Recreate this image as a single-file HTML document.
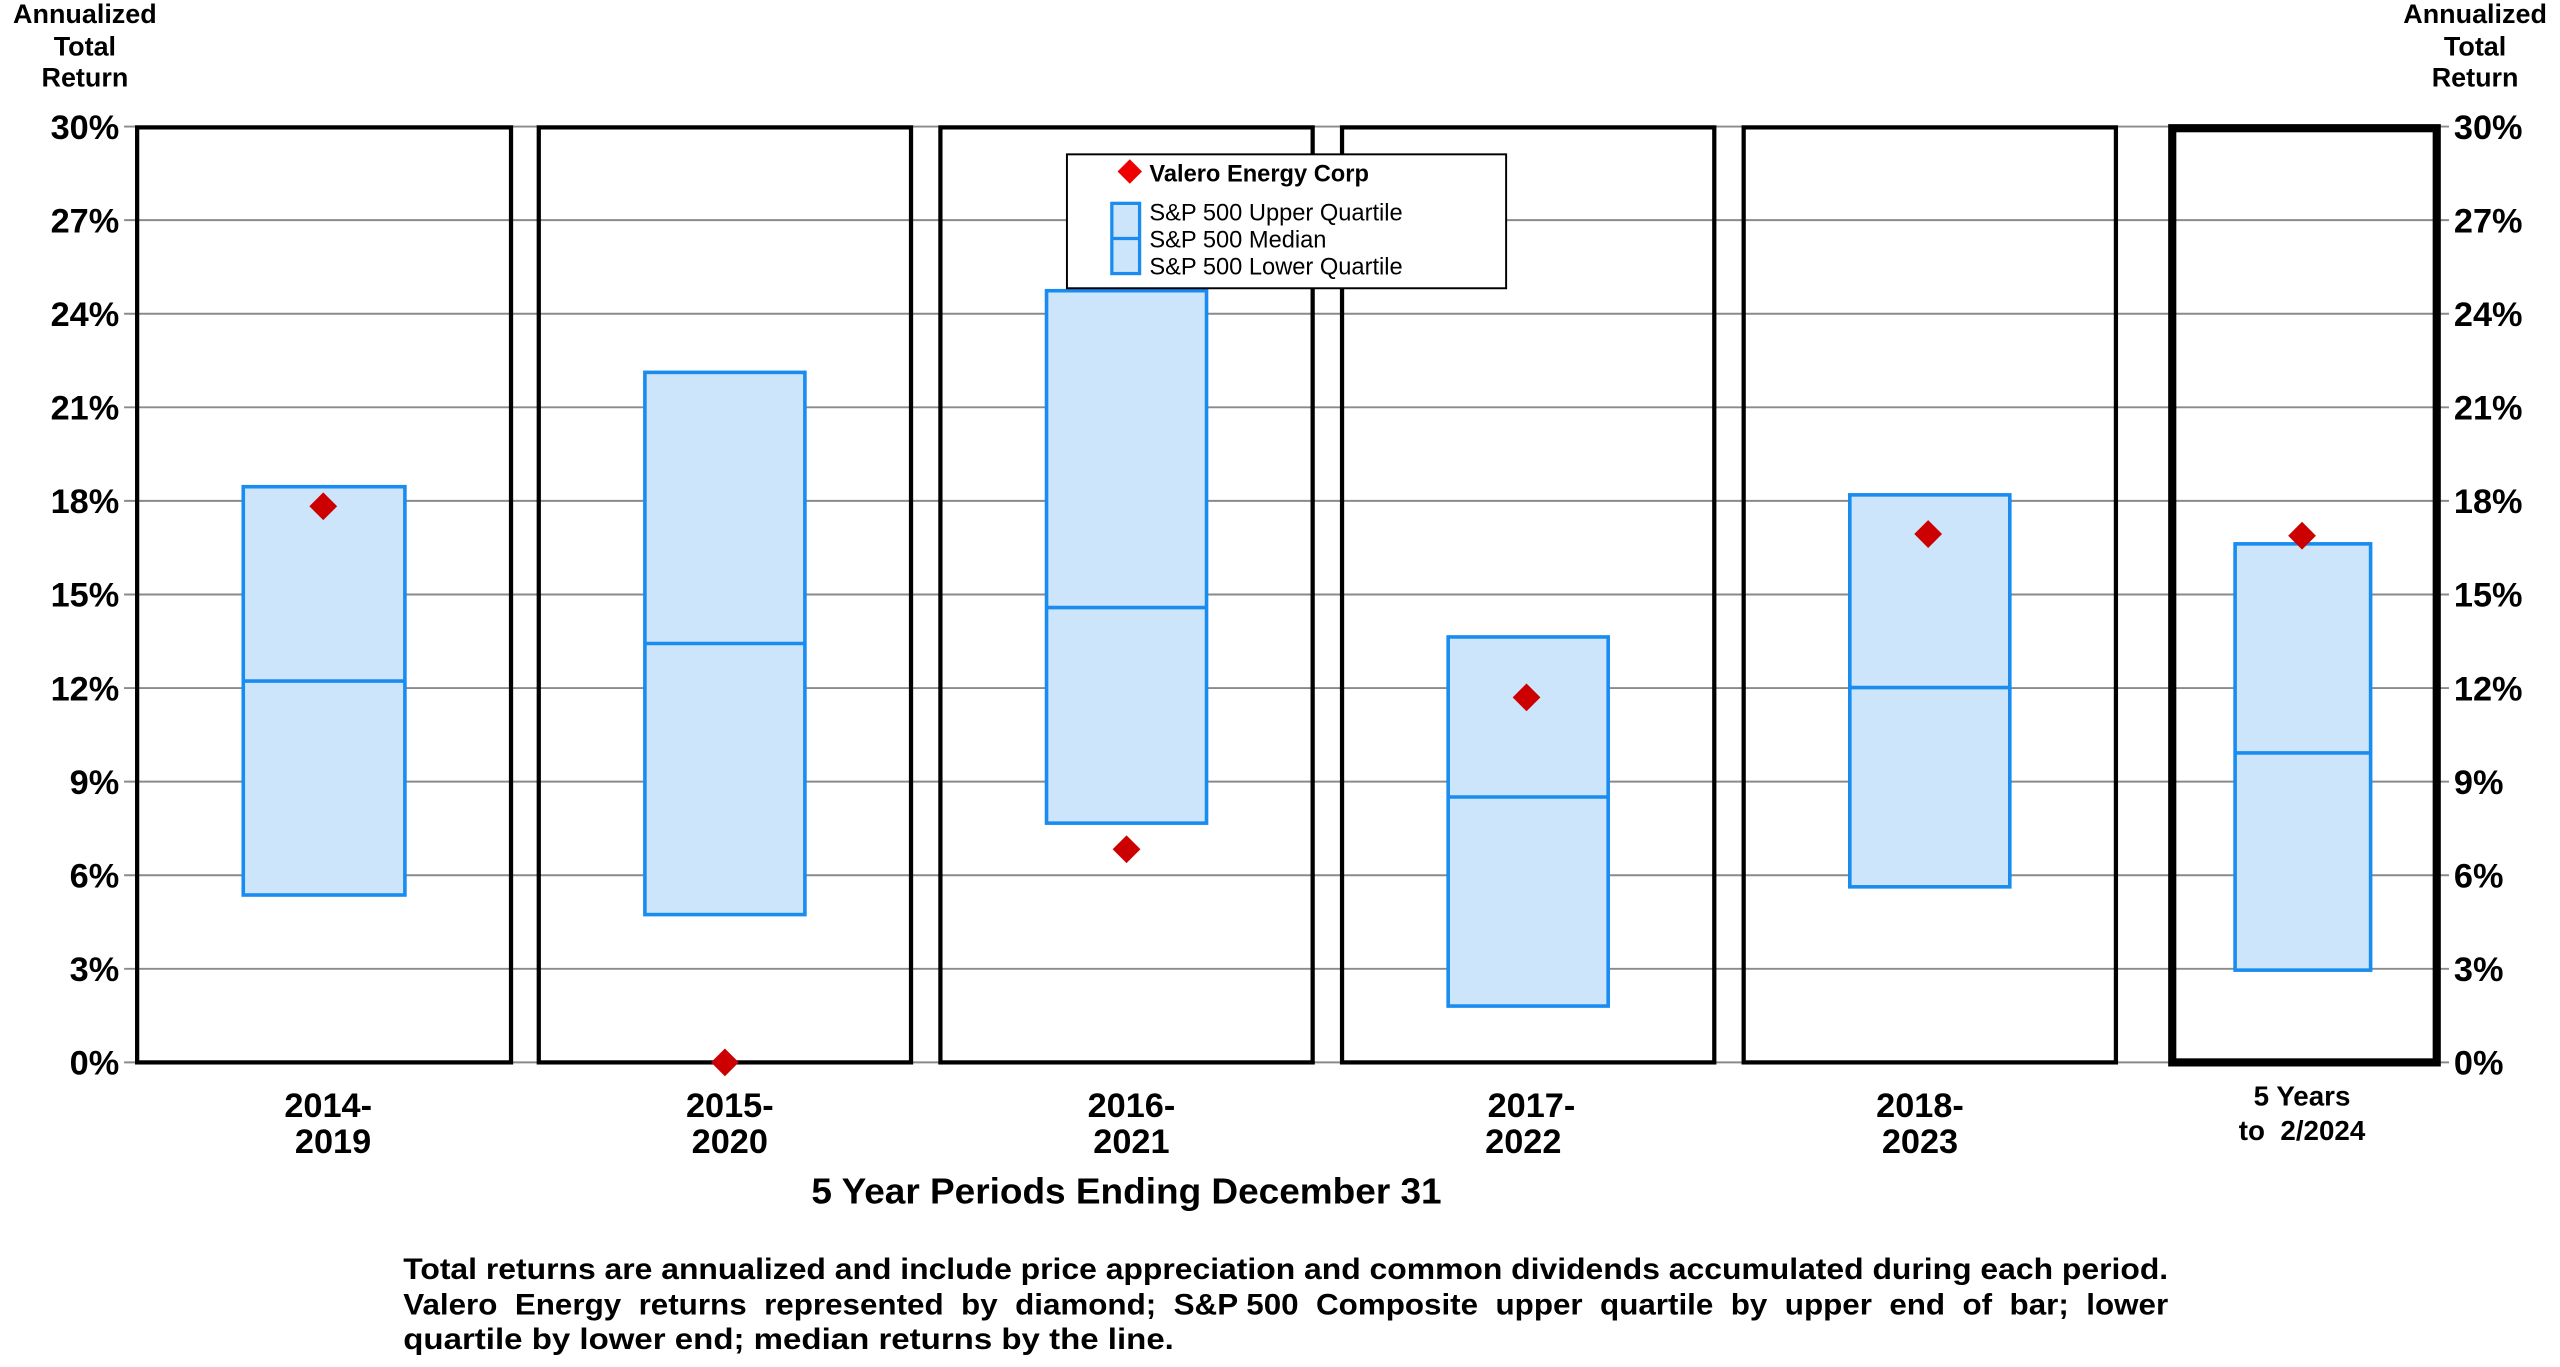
<!DOCTYPE html>
<html><head><meta charset="utf-8"><style>
html,body{margin:0;padding:0;background:#fff;overflow:hidden}
svg{display:block}
text{font-family:"Liberation Sans",Arial,sans-serif;fill:#000}
.b{font-weight:bold}
</style></head><body>
<svg width="2560" height="1367" viewBox="0 0 1568 837" preserveAspectRatio="none" xmlns="http://www.w3.org/2000/svg">
<rect width="1568" height="837" fill="#fff"/>
<g stroke="#8a8a8a" stroke-width="1.2">
<line x1="76" y1="77.5" x2="1500" y2="77.5"/>
<line x1="76" y1="134.8" x2="1500" y2="134.8"/>
<line x1="76" y1="192.1" x2="1500" y2="192.1"/>
<line x1="76" y1="249.4" x2="1500" y2="249.4"/>
<line x1="76" y1="306.7" x2="1500" y2="306.7"/>
<line x1="76" y1="364" x2="1500" y2="364"/>
<line x1="76" y1="421.3" x2="1500" y2="421.3"/>
<line x1="76" y1="478.6" x2="1500" y2="478.6"/>
<line x1="76" y1="535.9" x2="1500" y2="535.9"/>
<line x1="76" y1="593.2" x2="1500" y2="593.2"/>
<line x1="76" y1="650.5" x2="1500" y2="650.5"/>
</g>
<g fill="none" stroke="#000" stroke-width="2.6">
<rect x="84" y="78" width="229" height="572.5"/>
<rect x="330" y="78" width="228" height="572.5"/>
<rect x="576" y="78" width="228" height="572.5"/>
<rect x="822" y="78" width="228" height="572.5"/>
<rect x="1068" y="78" width="228" height="572.5"/>
</g>
<rect x="1330.5" y="78.5" width="162" height="572" fill="none" stroke="#000" stroke-width="5"/>
<g fill="#cce5fb" stroke="#1a8cf0" stroke-width="2.2">
<rect x="149" y="298" width="99" height="250"/>
<line x1="149" y1="417" x2="248" y2="417"/>
<rect x="395" y="228" width="98" height="332"/>
<line x1="395" y1="394" x2="493" y2="394"/>
<rect x="641" y="178" width="98" height="326"/>
<line x1="641" y1="372" x2="739" y2="372"/>
<rect x="887" y="390" width="98" height="226"/>
<line x1="887" y1="488" x2="985" y2="488"/>
<rect x="1133" y="303" width="98" height="240"/>
<line x1="1133" y1="421" x2="1231" y2="421"/>
<rect x="1369" y="333" width="83" height="261"/>
<line x1="1369" y1="461" x2="1452" y2="461"/>
</g>
<g fill="#cc0000">
<path d="M198 301.5l8.5 8.5-8.5 8.5-8.5-8.5z"/>
<path d="M444 642l8.5 8.5-8.5 8.5-8.5-8.5z"/>
<path d="M690 511.5l8.5 8.5-8.5 8.5-8.5-8.5z"/>
<path d="M935 418.5l8.5 8.5-8.5 8.5-8.5-8.5z"/>
<path d="M1181 318.5l8.5 8.5-8.5 8.5-8.5-8.5z"/>
<path d="M1410 319.5l8.5 8.5-8.5 8.5-8.5-8.5z"/>
</g>
<rect x="653.5" y="94.5" width="269" height="82" fill="#fff" stroke="#000" stroke-width="1.2"/>
<path d="M692 97.5l7.5 7.5-7.5 7.5-7.5-7.5z" fill="#ee0000"/>
<text x="704" y="111" class="b" font-size="14.5">Valero Energy Corp</text>
<rect x="681" y="124.5" width="17" height="43" fill="#cce5fb" stroke="#1a8cf0" stroke-width="2"/>
<line x1="681" y1="146" x2="698" y2="146" stroke="#1a8cf0" stroke-width="2"/>
<text x="704" y="135" font-size="14.5">S&amp;P 500 Upper Quartile</text>
<text x="704" y="151.5" font-size="14.5">S&amp;P 500 Median</text>
<text x="704" y="168" font-size="14.5">S&amp;P 500 Lower Quartile</text>
<g font-size="16.5" text-anchor="middle">
<text x="52" y="14" class="b">Annualized</text>
<text x="52" y="34" class="b">Total</text>
<text x="52" y="53" class="b">Return</text>
<text x="1516" y="14" class="b">Annualized</text>
<text x="1516" y="34" class="b">Total</text>
<text x="1516" y="53" class="b">Return</text>
</g>
<g font-size="21" text-anchor="end">
<text x="73" y="85" class="b">30%</text>
<text x="73" y="142.3" class="b">27%</text>
<text x="73" y="199.6" class="b">24%</text>
<text x="73" y="256.9" class="b">21%</text>
<text x="73" y="314.2" class="b">18%</text>
<text x="73" y="371.5" class="b">15%</text>
<text x="73" y="428.8" class="b">12%</text>
<text x="73" y="486.1" class="b">9%</text>
<text x="73" y="543.4" class="b">6%</text>
<text x="73" y="600.7" class="b">3%</text>
<text x="73" y="658" class="b">0%</text>
</g>
<g font-size="21">
<text x="1503" y="85" class="b">30%</text>
<text x="1503" y="142.3" class="b">27%</text>
<text x="1503" y="199.6" class="b">24%</text>
<text x="1503" y="256.9" class="b">21%</text>
<text x="1503" y="314.2" class="b">18%</text>
<text x="1503" y="371.5" class="b">15%</text>
<text x="1503" y="428.8" class="b">12%</text>
<text x="1503" y="486.1" class="b">9%</text>
<text x="1503" y="543.4" class="b">6%</text>
<text x="1503" y="600.7" class="b">3%</text>
<text x="1503" y="658" class="b">0%</text>
</g>
<g font-size="21" text-anchor="middle">
<text x="201" y="684" class="b">2014-</text><text x="204" y="706" class="b">2019</text>
<text x="447" y="684" class="b">2015-</text><text x="447" y="706" class="b">2020</text>
<text x="693" y="684" class="b">2016-</text><text x="693" y="706" class="b">2021</text>
<text x="938" y="684" class="b">2017-</text><text x="933" y="706" class="b">2022</text>
<text x="1176" y="684" class="b">2018-</text><text x="1176" y="706" class="b">2023</text>
</g>
<text x="497" y="737" class="b" font-size="22" textLength="386" lengthAdjust="spacingAndGlyphs">5 Year Periods Ending December 31</text>
<g font-size="17" text-anchor="middle">
<text x="1410" y="677" class="b">5 Years</text>
<text x="1410" y="698" class="b" xml:space="preserve">to  2/2024</text>
</g>
<g font-size="18">
<text x="247" y="783" class="b" textLength="1081" lengthAdjust="spacingAndGlyphs">Total returns are annualized and include price appreciation and common dividends accumulated during each period.</text>
<text x="247" y="805" class="b" textLength="1081" lengthAdjust="spacingAndGlyphs" xml:space="preserve">Valero  Energy  returns  represented  by  diamond;  S&amp;P 500  Composite  upper  quartile  by  upper  end  of  bar;  lower</text>
<text x="247" y="826" class="b" textLength="472" lengthAdjust="spacingAndGlyphs">quartile by lower end; median returns by the line.</text>
</g>
</svg>
</body></html>
